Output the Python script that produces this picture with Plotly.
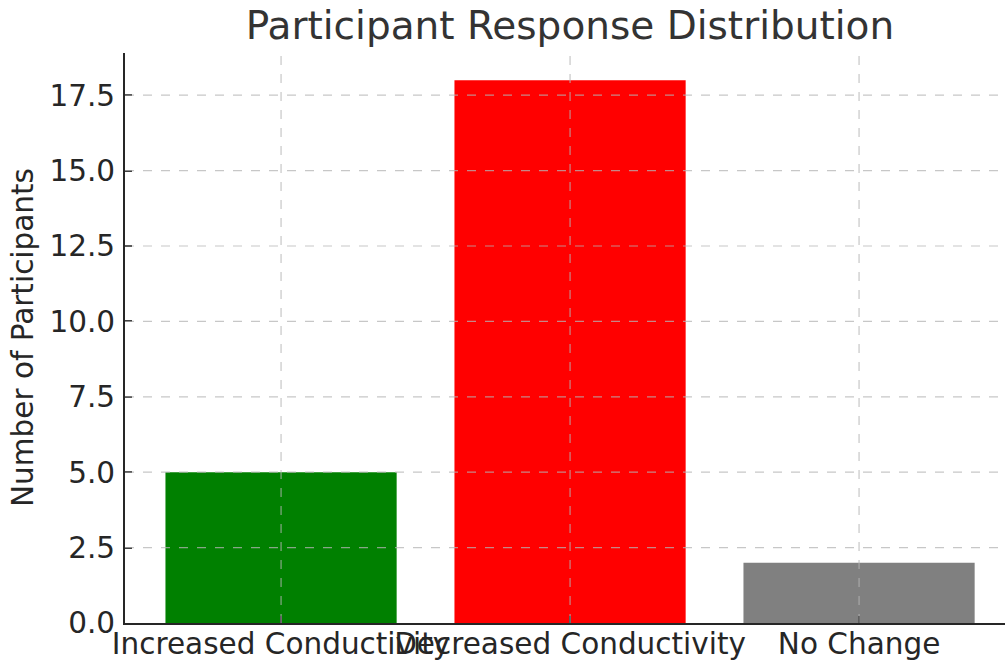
import plotly.graph_objects as go

categories = ["Increased Conductivity", "Decreased Conductivity", "No Change"]
participants = [5, 18, 2]
bar_colors = ["#008000", "#ff0000", "#808080"]
y_ticks = [0.0, 2.5, 5.0, 7.5, 10.0, 12.5, 15.0, 17.5]
y_tick_labels = [f"{v:.1f}" for v in y_ticks]

W, H = 1005, 664
ML, MR, MT, MB = 125, 0, 53, 41
FONT = "DejaVu Sans"
GRID = "rgba(180,180,180,0.75)"
TICK_SIZE = 29.5

fig = go.Figure(
    go.Bar(
        x=categories,
        y=participants,
        marker=dict(color=bar_colors, line=dict(width=0)),
        width=0.8,
    )
)

# dashed grid drawn over the bars
shapes = []
for c in categories:
    shapes.append(dict(type="line", xref="x", yref="paper", x0=c, x1=c, y0=0, y1=1,
                       line=dict(color=GRID, width=1.2, dash="dash"), layer="above"))
for v in y_ticks[1:]:
    shapes.append(dict(type="line", xref="paper", yref="y", x0=0, x1=1, y0=v, y1=v,
                       line=dict(color=GRID, width=1.2, dash="dash"), layer="above"))

fig.update_layout(
    width=W, height=H,
    margin=dict(l=ML, r=MR, t=MT, b=MB, pad=0, autoexpand=False),
    plot_bgcolor="white", paper_bgcolor="white",
    showlegend=False,
    bargap=0.2,
    shapes=shapes,
    font=dict(family=FONT, size=TICK_SIZE, color="#262626"),
    title=dict(text="Participant Response Distribution", x=570 / W, xref="container",
               xanchor="center", y=1 - 25 / H, yref="container", yanchor="middle",
               font=dict(family=FONT, size=39, color="#333333")),
    annotations=[dict(text="Number of Participants", textangle=-90,
                      xref="paper", yref="paper", x=(23 - ML) / (W - ML - MR), y=0.5,
                      xanchor="center", yanchor="middle", showarrow=False,
                      font=dict(family=FONT, size=TICK_SIZE, color="#262626"))],
)

fig.update_xaxes(
    type="category", categoryorder="array", categoryarray=categories,
    range=[-0.54, -0.54 + (W - ML - MR) / 289.0],
    automargin=False,
    showgrid=False, zeroline=False,
    showline=True, linecolor="#262626", linewidth=2,
    ticks="inside", ticklen=7, tickwidth=1.5, tickcolor="#262626",
    tickangle=0, ticklabelstandoff=-6,
    tickfont=dict(family=FONT, size=TICK_SIZE, color="#262626"),
)
fig.update_yaxes(
    range=[0, 18.9],
    tickvals=y_ticks, ticktext=y_tick_labels,
    automargin=False,
    showgrid=False, zeroline=False,
    showline=True, linecolor="#262626", linewidth=2,
    ticks="inside", ticklen=7, tickwidth=1.5, tickcolor="#262626",
    ticklabelstandoff=2,
    tickfont=dict(family=FONT, size=TICK_SIZE, color="#262626"),
)

fig.write_html("out.html")
